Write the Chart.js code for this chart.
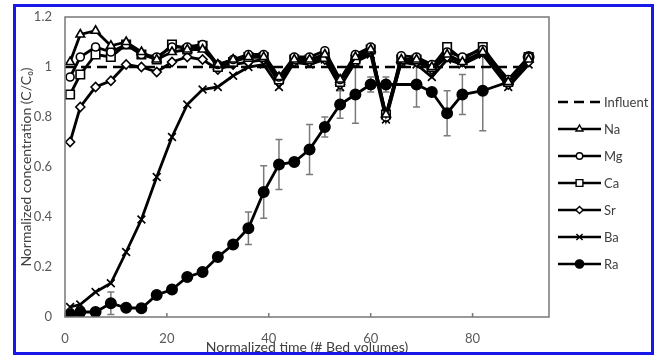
<!DOCTYPE html>
<html>
<head>
<meta charset="utf-8">
<script src="https://cdn.jsdelivr.net/npm/chart.js@4/dist/chart.umd.min.js"></script>
<style>
  html, body { margin: 0; padding: 0; background: #fff; }
  #wrap { width: 657px; height: 358px; }
</style>
</head>
<body>
<div id="wrap"><canvas id="chart" width="657" height="358"></canvas></div>
<script>
// sampling times (bed volumes) for the major cations
const bedVolumes = [1, 3, 6, 9, 12, 15, 18, 21, 24, 27, 30, 33, 36, 39, 42, 45, 48, 51, 54, 57, 60, 63, 66, 69, 72, 75, 78, 82, 87, 91];
const na = [1.02, 1.13, 1.145, 1.085, 1.10, 1.06, 1.03, 1.06, 1.07, 1.07, 1.01, 1.03, 1.04, 1.04, 0.96, 1.03, 1.03, 1.05, 0.95, 1.04, 1.07, 0.81, 1.03, 1.03, 1.00, 1.05, 1.02, 1.06, 0.94, 1.03];
const mg = [0.96, 1.04, 1.08, 1.06, 1.09, 1.05, 1.04, 1.08, 1.08, 1.09, 1.01, 1.03, 1.05, 1.05, 0.96, 1.04, 1.04, 1.065, 0.95, 1.05, 1.08, 0.80, 1.045, 1.04, 1.01, 1.06, 1.04, 1.07, 0.95, 1.04];
const ca = [0.89, 0.97, 1.05, 1.04, 1.09, 1.05, 1.03, 1.09, 1.07, 1.085, 1.00, 1.02, 1.04, 1.04, 0.95, 1.03, 1.03, 1.04, 0.94, 1.03, 1.07, 0.81, 1.03, 1.03, 1.00, 1.08, 1.03, 1.08, 0.94, 1.04];
const sr = [0.70, 0.84, 0.92, 0.945, 1.01, 1.00, 0.98, 1.02, 1.04, 1.03, 0.99, 1.01, 1.02, 1.03, 0.94, 1.02, 1.02, 1.03, 0.93, 1.02, 1.06, 0.80, 1.02, 1.02, 0.99, 1.04, 1.02, 1.06, 0.93, 1.02];
const ba = [0.04, 0.05, 0.10, 0.135, 0.26, 0.39, 0.56, 0.72, 0.85, 0.91, 0.92, 0.965, 1.00, 1.01, 0.92, 1.02, 1.01, 1.03, 0.92, 1.02, 1.05, 0.79, 1.02, 1.01, 0.96, 1.03, 1.01, 1.05, 0.92, 1.01];

// radium has its own sampling and error bars
const raTime = [1, 3, 6, 9, 12, 15, 18, 21, 24, 27, 30, 33, 36, 39, 42, 45, 48, 51, 54, 57, 60, 63, 69, 72, 75, 78, 82, 87, 91];
const ra = [0.01, 0.02, 0.02, 0.055, 0.037, 0.035, 0.088, 0.11, 0.16, 0.18, 0.24, 0.29, 0.355, 0.50, 0.61, 0.62, 0.67, 0.76, 0.85, 0.89, 0.93, 0.93, 0.93, 0.90, 0.815, 0.89, 0.905, 0.94, 1.04];
const raErr = [0, 0, 0, 0.045, 0, 0, 0, 0, 0, 0, 0, 0, 0.065, 0.105, 0.10, 0, 0.10, 0.04, 0.055, 0.115, 0.03, 0.03, 0.09, 0, 0.09, 0.08, 0.16, 0, 0];

const influentTime = [0, 91];
const influent = [1, 1];

const xTicks = [0, 20, 40, 60, 80];
const yTicks = [0, 0.2, 0.4, 0.6, 0.8, 1, 1.2];

const toPoints = (xs, ys) => xs.map((x, i) => ({ x: x, y: ys[i] }));

const FONT = 'Lato, "Open Sans", sans-serif';
const INK = '#000';

function series(label, xs, ys, style, radius, fill) {
  return {
    label: label,
    data: toPoints(xs, ys),
    showLine: true,
    borderColor: INK,
    borderWidth: 2.8,
    pointStyle: style,
    pointRadius: radius,
    pointBorderWidth: 1.6,
    pointBorderColor: INK,
    pointBackgroundColor: fill,
    tension: 0
  };
}

const datasets = [
  {
    label: 'Influent',
    data: toPoints(influentTime, influent),
    showLine: true,
    borderColor: INK,
    borderWidth: 2.5,
    borderDash: [10, 6],
    pointRadius: 0
  },
  series('Na', bedVolumes, na, 'triangle', 5, '#fff'),
  series('Mg', bedVolumes, mg, 'circle', 4, '#fff'),
  series('Ca', bedVolumes, ca, 'rect', 6, '#fff'),
  series('Sr', bedVolumes, sr, 'rectRot', 4.5, '#fff'),
  series('Ba', bedVolumes, ba, 'crossRot', 5.5, '#fff'),
  series('Ra', raTime, ra, 'circle', 5.2, INK)
];

// gray error bars for Ra, drawn through the scales
const errorBars = {
  id: 'errorBars',
  beforeDatasetsDraw(chart) {
    const ctx = chart.ctx;
    const xs = chart.scales.x, ys = chart.scales.y;
    ctx.save();
    ctx.strokeStyle = '#7a7a7a';
    ctx.lineWidth = 1.5;
    raTime.forEach((t, i) => {
      if (!raErr[i]) return;
      const px = xs.getPixelForValue(t);
      const top = ys.getPixelForValue(ra[i] + raErr[i]);
      const bot = ys.getPixelForValue(ra[i] - raErr[i]);
      ctx.beginPath();
      ctx.moveTo(px, top); ctx.lineTo(px, bot);
      ctx.moveTo(px - 3.5, top); ctx.lineTo(px + 3.5, top);
      ctx.moveTo(px - 3.5, bot); ctx.lineTo(px + 3.5, bot);
      ctx.stroke();
    });
    ctx.restore();
  }
};

const decorations = {
  id: 'decorations',
  beforeDraw(chart) {
    const ctx = chart.ctx;
    ctx.save();
    ctx.fillStyle = '#fff';
    ctx.fillRect(0, 0, chart.width, chart.height);
    ctx.restore();
  },
  afterDraw(chart) {
    const ctx = chart.ctx;
    const a = chart.chartArea;
    const xs = chart.scales.x;
    ctx.save();
    // plot box
    ctx.strokeStyle = '#777';
    ctx.lineWidth = 1.5;
    ctx.strokeRect(a.left, a.top, a.right - a.left, a.bottom - a.top);
    // small inward ticks on the x axis
    ctx.beginPath();
    xTicks.forEach(v => {
      const px = xs.getPixelForValue(v);
      ctx.moveTo(px, a.bottom); ctx.lineTo(px, a.bottom - 4);
    });
    ctx.stroke();

    // legend
    const lx0 = 558, lx1 = 601, ly0 = 102, step = 27;
    ctx.font = '13px ' + FONT;
    ctx.textBaseline = 'middle';
    chart.data.datasets.forEach((ds, i) => {
      const y = ly0 + i * step;
      ctx.strokeStyle = INK;
      ctx.lineWidth = 2.5;
      ctx.setLineDash(ds.borderDash || []);
      ctx.beginPath();
      ctx.moveTo(lx0, y); ctx.lineTo(lx1, y);
      ctx.stroke();
      ctx.setLineDash([]);
      if (ds.pointRadius) {
        ctx.fillStyle = ds.pointBackgroundColor;
        ctx.strokeStyle = INK;
        ctx.lineWidth = 1.4;
        Chart.helpers.drawPoint(ctx, {
          pointStyle: ds.pointStyle,
          radius: ds.pointRadius * 0.8,
          borderWidth: 1.4,
          rotation: 0
        }, (lx0 + lx1) / 2, y);
      }
      ctx.fillStyle = '#404040';
      ctx.fillText(ds.label, lx1 + 3, y + 1);
    });

    // blue frame round the figure
    ctx.strokeStyle = '#1818e8';
    ctx.lineWidth = 3;
    ctx.strokeRect(14.5, 5.5, 638, 348);
    ctx.restore();
  }
};

new Chart(document.getElementById('chart'), {
  type: 'scatter',
  data: { datasets: datasets },
  options: {
    responsive: false,
    animation: false,
    layout: { padding: { left: 0, top: 17, right: 108, bottom: 0 } },
    plugins: { legend: { display: false }, tooltip: { enabled: false } },
    scales: {
      x: {
        type: 'linear',
        min: 0,
        max: 95,
        afterFit(scale) { scale.height = 41; },
        afterBuildTicks(scale) { scale.ticks = xTicks.map(v => ({ value: v })); },
        grid: { display: false },
        border: { display: false },
        ticks: { color: '#595959', font: { family: FONT, size: 13 }, padding: 6, maxRotation: 0 },
        title: {
          display: true,
          text: 'Normalized time (# Bed volumes)',
          color: '#404040',
          font: { family: FONT, size: 14 },
          padding: { top: 0, bottom: 2 }
        }
      },
      y: {
        type: 'linear',
        min: 0,
        max: 1.2,
        afterFit(scale) { scale.width = 65; },
        afterBuildTicks(scale) { scale.ticks = yTicks.map(v => ({ value: v })); },
        grid: { display: false },
        border: { display: false },
        ticks: {
          color: '#595959',
          font: { family: FONT, size: 13 },
          padding: 5,
          callback: v => String(Math.round(v * 10) / 10)
        },
        title: {
          display: true,
          text: 'Normalized concentration (C/C\u2080)',
          color: '#404040',
          font: { family: FONT, size: 14 },
          padding: { top: 18, bottom: 0 }
        }
      }
    }
  },
  plugins: [errorBars, decorations]
});
</script>
</body>
</html>
